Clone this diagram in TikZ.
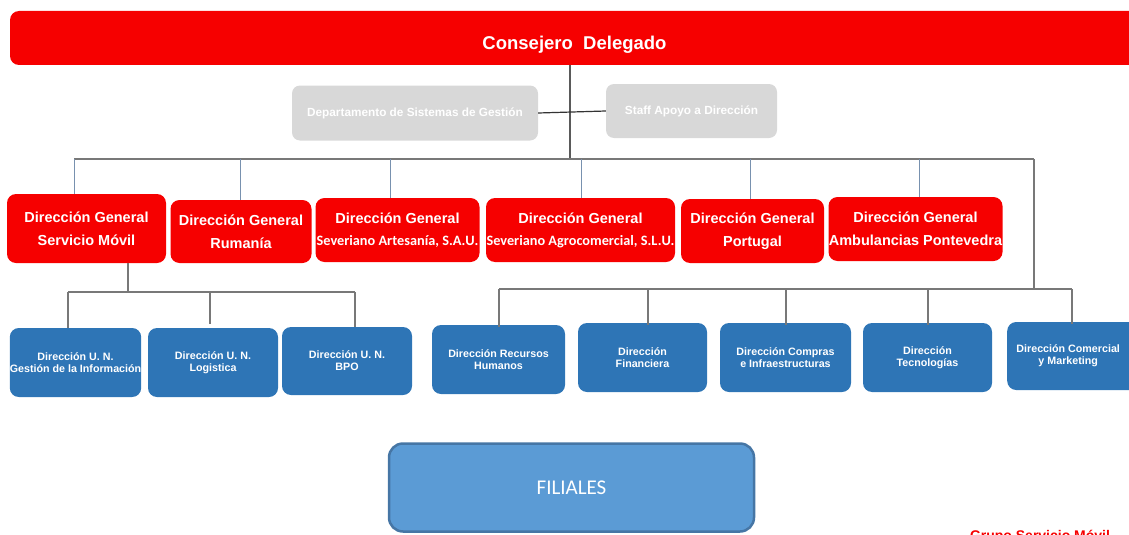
\documentclass[tikz,border=0pt]{standalone}
\usepackage{fontspec}
\setmainfont{Liberation Sans}
\newfontfamily\calfont{Carlito}
\newcommand\subfnt{\calfont\bfseries\fontsize{14.3}{15}\selectfont}
\definecolor{cdred}{RGB}{246,0,0}
\definecolor{gbox}{RGB}{216,216,216}
\definecolor{bbox}{RGB}{46,117,182}
\definecolor{ffill}{RGB}{91,155,213}
\definecolor{fdraw}{RGB}{70,118,165}
\definecolor{lgray}{RGB}{120,120,120}
\definecolor{ldark}{RGB}{90,90,90}
\definecolor{lblue}{RGB}{120,145,175}
\begin{document}
\begin{tikzpicture}[x=1pt,y=-1pt,
  redbox/.style={fill=cdred, rounded corners=9pt, text=white, align=center, inner sep=0pt,
    font=\bfseries\fontsize{14.5}{23}\selectfont},
  graybox/.style={fill=gbox, rounded corners=8pt, text=white, align=center, inner sep=0pt,
    font=\bfseries\fontsize{11.8}{13}\selectfont},
  bluebox/.style={fill=bbox, rounded corners=9pt, text=white, align=center, inner sep=0pt,
    font=\bfseries\fontsize{10.7}{12}\selectfont},
  bus/.style={draw=lgray, line width=2.5pt},
  stem/.style={draw=ldark, line width=1.3pt},
  drop/.style={draw=lblue, line width=0.8pt},
  ldrop/.style={draw=lgray, line width=2.2pt},
]
\useasboundingbox (0,0) rectangle (1129,535);

% top
\node[redbox, minimum width=1129, minimum height=54,
  font=\bfseries\fontsize{18.5}{22}\selectfont] (top) at (574.5,38) {\raisebox{-11.5pt}[0pt][0pt]{Consejero\ \ Delegado}};

% staff boxes
\node[graybox, minimum width=246, minimum height=55] (dept) at (415,113) {Departamento de Sistemas de Gestión};
\node[graybox, minimum width=171, minimum height=54] (staff) at (691.5,111) {Staff Apoyo a Dirección};

% red boxes
\node[redbox, minimum width=159, minimum height=69] (r1) at (86.5,228.5) {Dirección General\\Servicio Móvil};
\node[redbox, minimum width=141, minimum height=63] (r2) at (241,231.5) {Dirección General\\Rumanía};
\node[redbox, minimum width=164, minimum height=64] (r3) at (397.5,230) {Dirección General\\[-1pt]{\subfnt Severiano Artesanía, S.A.U.}};
\node[redbox, minimum width=189, minimum height=64] (r4) at (580.5,230) {Dirección General\\[-1pt]{\subfnt Severiano Agrocomercial, S.L.U.}};
\node[redbox, minimum width=143, minimum height=64] (r5) at (752.5,231) {Dirección General\\Portugal};
\node[redbox, minimum width=174, minimum height=64] (r6) at (915.5,229) {Dirección General\\Ambulancias Pontevedra};

% blue boxes (left)
\node[bluebox, minimum width=130, minimum height=69] (b1) at (75.5,362.5) {Dirección U. N.\\Gestión\ de la Información};
\node[bluebox, minimum width=130, minimum height=69] (b2) at (213,362.5) {Dirección U. N.\\Logistica};
\node[bluebox, minimum width=130, minimum height=68] (b3) at (347,361) {Dirección U. N.\\BPO};

% blue boxes (right)
\node[bluebox, minimum width=133, minimum height=69] (b4) at (498.5,359.5) {Dirección Recursos\\Humanos};
\node[bluebox, minimum width=129, minimum height=69] (b5) at (642.5,357.5) {Dirección\\Financiera};
\node[bluebox, minimum width=131, minimum height=69] (b6) at (785.5,357.5) {Dirección Compras\\e Infraestructuras};
\node[bluebox, minimum width=129, minimum height=69] (b7) at (927.5,357.5) {Dirección\\Tecnologías};
\node[bluebox, minimum width=132, minimum height=68, anchor=west] (b8) at (1007,356) {\hspace*{-10pt}Dirección Comercial\\\hspace*{-10pt}y Marketing};

% filiales
\node[fill=ffill, draw=fdraw, line width=2.5pt, rounded corners=14pt, minimum width=365, minimum height=88,
  text=white, font=\calfont\fontsize{21}{24}\selectfont] (fil) at (571.5,487.5) {FILIALES};

% footer
\node[text=cdred, font=\bfseries\fontsize{14}{16}\selectfont, anchor=north] (grupo) at (1040,527) {Grupo Servicio Móvil};

% connectors
\coordinate (hub) at (570,159);
\coordinate (busL) at (74,159);
\coordinate (busR) at (1034,159);
\draw[stem] (top.south -| hub) -- (hub);
\draw[draw=black!80, line width=1.2pt] (dept.east) -- (staff.west);
\draw[bus] (busL) -- (busR);
\foreach \x/\n in {74/r1, 240/r2, 390/r3, 581/r4, 750/r5, 919/r6}{
  \coordinate (d\n) at (\x,159);
  \draw[drop] (d\n) -- (d\n |- \n.north);
}
% left sub-tree
\coordinate (lj) at (128,292);
\coordinate (lL) at (68,292);
\coordinate (lR) at (355,292);
\draw[ldrop] (r1.south -| lj) -- (lj);
\draw[ldrop] (lL) -- (lR);
\draw[ldrop] (lL) -- (lL |- b1.north);
\draw[ldrop] (210,292) -- (210,324);
\draw[ldrop] (lR) -- (lR |- b3.north);
% right sub-tree
\coordinate (rj) at (1034,289);
\coordinate (rL) at (499,289);
\coordinate (rR) at (1072,289);
\draw[draw=lgray, line width=1.5pt] (busR) -- (rj);
\draw[draw=lgray, line width=1.5pt] (rL) -- (rR);
\foreach \x/\n in {499/b4, 648/b5, 786/b6, 928/b7, 1072/b8}{
  \coordinate (e\n) at (\x,289);
  \draw[ldrop] (e\n) -- ([yshift=-2pt]e\n |- \n.north);
}
\end{tikzpicture}
\end{document}
